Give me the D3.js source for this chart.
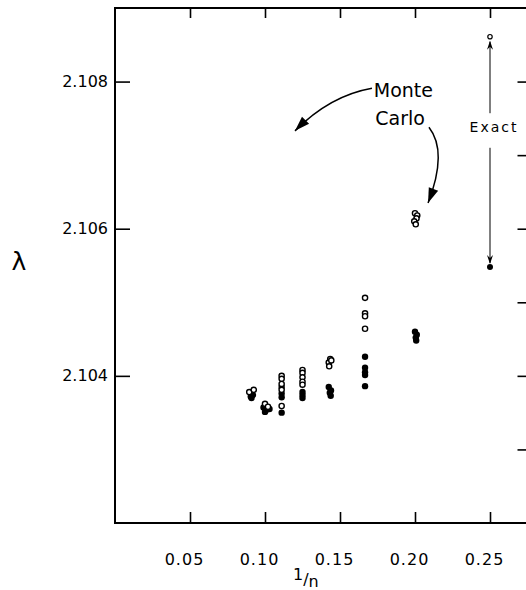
<!DOCTYPE html>
<html>
<head>
<meta charset="utf-8">
<script src="https://cdn.jsdelivr.net/npm/d3@7"></script>
<style>
  body { margin: 0; background: #fff; }
  svg { display: block; }
  text { font-family: "DejaVu Sans", sans-serif; fill: #000; }
</style>
</head>
<body>
<svg id="chart" width="526" height="590"></svg>
<script>
// tick values
var xTicks = [0.05, 0.10, 0.15, 0.20, 0.25];
var xTickLabels = ["0.05", "0.10", "0.15", "0.20", "0.25"];
var yTicksLeft = [2.104, 2.106, 2.108];
var yTicksRight = [2.103, 2.104, 2.105, 2.106, 2.107, 2.108];

// Monte Carlo, open circles (1/n, lambda)
var openInvN = [0.0895, 0.0925,
  0.1, 0.102,
  0.1111, 0.1111, 0.1111, 0.1111, 0.1111,
  0.125, 0.125, 0.125, 0.125, 0.125,
  0.1435, 0.1425, 0.1442, 0.1428,
  0.1667, 0.1667, 0.1667, 0.1667,
  0.2, 0.2015, 0.201, 0.1995, 0.2005];
var openLambda = [2.10378, 2.10381,
  2.10362, 2.10358,
  2.10400, 2.10396, 2.10389, 2.10381, 2.10359,
  2.10408, 2.10404, 2.10398, 2.10392, 2.10388,
  2.10423, 2.10418, 2.10421, 2.10413,
  2.10506, 2.10485, 2.10481, 2.10464,
  2.10621, 2.10618, 2.10614, 2.10610, 2.10606];

// Monte Carlo, filled circles
var filledInvN = [0.0905, 0.092, 0.091,
  0.099, 0.101, 0.1, 0.103,
  0.1111, 0.1111, 0.1111, 0.1111,
  0.125, 0.125, 0.125,
  0.1425, 0.144, 0.1432, 0.1438,
  0.1667, 0.1667, 0.1667, 0.1667, 0.1667,
  0.2, 0.2012, 0.2005, 0.2008];
var filledLambda = [2.10372, 2.10374, 2.10370,
  2.10357, 2.10354, 2.10351, 2.10355,
  2.10385, 2.10376, 2.10371, 2.10350,
  2.10378, 2.10374, 2.10370,
  2.10385, 2.10380, 2.10377, 2.10373,
  2.10426, 2.10411, 2.10405, 2.10401, 2.10386,
  2.10460, 2.10456, 2.10452, 2.10448];

// exact values at n = 4
var exactInvN = 0.25;
var exactUpper = 2.10861;
var exactLower = 2.10548;

var svg = d3.select("#chart");

var xMax = 0.277;
var x = d3.scaleLinear().domain([0, xMax]).range([115, 530.5]);
var y = d3.scaleLinear().domain([2.102, 2.109]).range([523, 8]);

// frame
svg.append("rect")
  .attr("x", x(0)).attr("y", y(2.109))
  .attr("width", x(xMax) - x(0)).attr("height", y(2.102) - y(2.109))
  .attr("fill", "none").attr("stroke", "#000").attr("stroke-width", 2);

function styleAxis(g) {
  g.select(".domain").remove();
  g.selectAll(".tick line").attr("stroke", "#000").attr("stroke-width", 1.6);
  g.selectAll(".tick text").attr("font-family", "DejaVu Sans").attr("fill", "#000");
}

svg.append("g")
  .attr("transform", "translate(" + x(0) + ",0)")
  .call(d3.axisLeft(y).tickValues(yTicksLeft).tickSize(-15).tickPadding(7)
    .tickFormat(d3.format(".3f")))
  .call(styleAxis)
  .selectAll(".tick text").attr("font-size", 16);

svg.append("g")
  .attr("transform", "translate(" + x(xMax) + ",0)")
  .call(d3.axisRight(y).tickValues(yTicksRight).tickSize(-13).tickFormat(""))
  .call(styleAxis);

svg.append("g")
  .attr("transform", "translate(0," + y(2.102) + ")")
  .call(d3.axisBottom(x).tickValues(xTicks).tickSize(-11).tickPadding(31)
    .tickFormat(function (d, i) { return xTickLabels[i]; }))
  .call(styleAxis)
  .selectAll(".tick text")
  .attr("font-size", 16)
  .attr("letter-spacing", 1)
  .attr("dx", -6);

svg.append("g")
  .attr("transform", "translate(0," + y(2.109) + ")")
  .call(d3.axisTop(x).tickValues(xTicks).tickSize(-10).tickFormat(""))
  .call(styleAxis);

// axis titles
svg.append("text")
  .attr("x", 19).attr("y", 270)
  .attr("text-anchor", "middle")
  .attr("font-size", 25)
  .text("λ");

var xt = svg.append("text")
  .attr("x", 293).attr("y", 585)
  .attr("font-size", 16);
xt.append("tspan").attr("dy", -5).text("1");
xt.append("tspan").attr("dy", 5).text("/");
xt.append("tspan").attr("dy", 2).text("n");

// data points
var openPts = openInvN.map(function (v, i) { return [v, openLambda[i]]; });
var filledPts = filledInvN.map(function (v, i) { return [v, filledLambda[i]]; });

svg.append("g").selectAll("circle")
  .data(filledPts).enter().append("circle")
  .attr("cx", function (d) { return x(d[0]); })
  .attr("cy", function (d) { return y(d[1]); })
  .attr("r", 3.2)
  .attr("fill", "#000");

svg.append("g").selectAll("circle")
  .data(openPts).enter().append("circle")
  .attr("cx", function (d) { return x(d[0]); })
  .attr("cy", function (d) { return y(d[1]); })
  .attr("r", 2.6)
  .attr("fill", "#fff")
  .attr("stroke", "#000")
  .attr("stroke-width", 1.4);

// exact range at n = 4
var ex = x(exactInvN);
svg.append("line")
  .attr("x1", ex).attr("x2", ex)
  .attr("y1", y(exactUpper) + 5).attr("y2", y(2.10757))
  .attr("stroke", "#000").attr("stroke-width", 1);
svg.append("line")
  .attr("x1", ex).attr("x2", ex)
  .attr("y1", y(2.1071)).attr("y2", y(exactLower) - 4)
  .attr("stroke", "#000").attr("stroke-width", 1);
svg.append("path")
  .attr("d", "M" + ex + "," + (y(exactUpper) + 4) + "l-3,9l3,-3l3,3z")
  .attr("fill", "#000");
svg.append("path")
  .attr("d", "M" + ex + "," + (y(exactLower) - 3) + "l-3,-9l3,3l3,-3z")
  .attr("fill", "#000");
svg.append("circle")
  .attr("cx", ex).attr("cy", y(exactUpper)).attr("r", 2.2)
  .attr("fill", "#fff").attr("stroke", "#000").attr("stroke-width", 1.2);
svg.append("circle")
  .attr("cx", ex).attr("cy", y(exactLower)).attr("r", 3)
  .attr("fill", "#000");
svg.append("text")
  .attr("x", ex + 4).attr("y", y(2.10732))
  .attr("text-anchor", "middle")
  .attr("font-size", 14)
  .attr("letter-spacing", 2)
  .text("Exact");

// Monte Carlo label and arrows
svg.append("text")
  .attr("x", x(0.1725)).attr("y", y(2.10779))
  .attr("font-size", 19)
  .text("Monte");
svg.append("text")
  .attr("x", x(0.1735)).attr("y", y(2.10741))
  .attr("font-size", 19)
  .text("Carlo");

function curvedArrow(p0, p1, p2) {
  var a = [x(p0[0]), y(p0[1])], c = [x(p1[0]), y(p1[1])], b = [x(p2[0]), y(p2[1])];
  var p = d3.path();
  p.moveTo(a[0], a[1]);
  p.quadraticCurveTo(c[0], c[1], b[0], b[1]);
  svg.append("path").attr("d", p.toString())
    .attr("fill", "none").attr("stroke", "#000").attr("stroke-width", 1.5);
  var ang = Math.atan2(b[1] - c[1], b[0] - c[0]);
  var len = 15, w = 5;
  var bx = b[0] - len * Math.cos(ang), by = b[1] - len * Math.sin(ang);
  var h = d3.path();
  h.moveTo(b[0], b[1]);
  h.lineTo(bx + w * Math.sin(ang), by - w * Math.cos(ang));
  h.lineTo(bx - w * Math.sin(ang), by + w * Math.cos(ang));
  h.closePath();
  svg.append("path").attr("d", h.toString()).attr("fill", "#000");
}

curvedArrow([0.1713, 2.10791], [0.1433, 2.10781], [0.12, 2.10733]);
curvedArrow([0.2093, 2.10738], [0.222, 2.10705], [0.2087, 2.10635]);
</script>
</body>
</html>
